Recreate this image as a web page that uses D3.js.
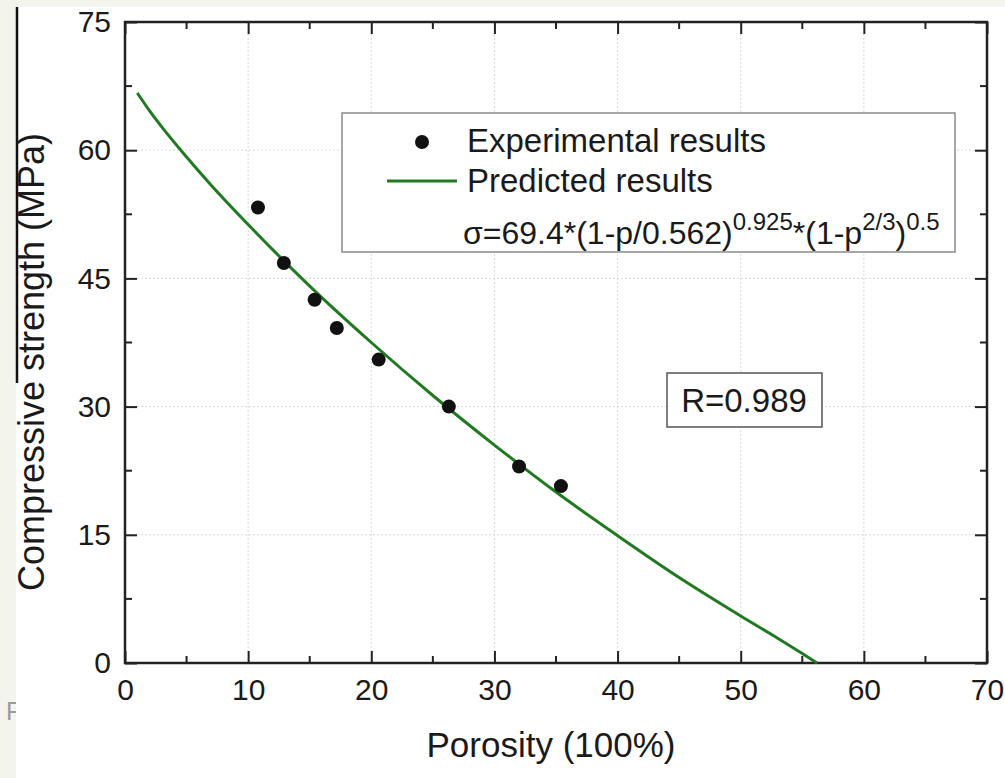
<!DOCTYPE html>
<html>
<head>
<meta charset="utf-8">
<script src="https://cdn.jsdelivr.net/npm/d3@7"></script>
<style>
  body { margin: 0; background: #f3f5ec; }
  svg { display: block; font-family: "Liberation Sans", Arial, sans-serif; }
</style>
</head>
<body>
<svg width="1005" height="778"></svg>
<script>
// measured points
const porosity = [10.8, 12.9, 15.4, 17.2, 20.6, 26.3, 32.0, 35.4];
const strength = [53.3, 46.8, 42.5, 39.2, 35.5, 30.0, 23.0, 20.7];

// predicted curve
const predPorosity = [1, 2, 3, 5, 7, 10, 15, 20, 25, 30, 35, 40, 45, 50, 53, 55, 56.2];
const predStrength = [66.7, 64.6, 62.7, 59.2, 55.9, 51.3, 44.1, 37.5, 31.3, 25.5, 20.0, 14.9, 10.0, 5.5, 2.9, 1.1, 0];

const xTicks = [0, 10, 20, 30, 40, 50, 60, 70];
const yTicks = [0, 15, 30, 45, 60, 75];
const xMinor = [5, 15, 25, 35, 45, 55, 65];
const yMinor = [7.5, 22.5, 37.5, 52.5, 67.5];

const pL = 125, pR = 987, pT = 22, pB = 663;
const ink = "#1a1a1a";

const svg = d3.select("svg");

// slide bits behind the figure
svg.append("text").attr("x", 6).attr("y", 720)
  .attr("font-size", 25).attr("fill", "#9a9a9a").text("F");
svg.append("rect").attr("x", 16).attr("y", 7).attr("width", 989).attr("height", 771).attr("fill", "#fff");
svg.append("line").attr("x1", 17).attr("x2", 17).attr("y1", 7).attr("y2", 383)
  .attr("stroke", "#111").attr("stroke-width", 2.5);

const x = d3.scaleLinear().domain([0, 70]).range([pL, pR]);
const y = d3.scaleLinear().domain([0, 75]).range([pB, pT]);

// grid
const grid = svg.append("g").attr("stroke", "#d9d9d9").attr("stroke-width", 1).attr("stroke-dasharray", "2,2");
grid.selectAll(".gx").data(xTicks.slice(1, -1)).enter().append("line")
  .attr("x1", d => x(d)).attr("x2", d => x(d)).attr("y1", pT).attr("y2", pB);
grid.selectAll(".gy").data(yTicks.slice(1, -1)).enter().append("line")
  .attr("x1", pL).attr("x2", pR).attr("y1", d => y(d)).attr("y2", d => y(d));

// axes with inward ticks
const xAxis = d3.axisBottom(x).tickValues(xTicks).tickSize(-12).tickPadding(16).tickFormat(d3.format("d"));
const yAxis = d3.axisLeft(y).tickValues(yTicks).tickSize(-12).tickPadding(14).tickFormat(d3.format("d"));

const gx = svg.append("g").attr("transform", "translate(0," + pB + ")").call(xAxis);
const gy = svg.append("g").attr("transform", "translate(" + pL + ",0)").call(yAxis);
const gxt = svg.append("g").attr("transform", "translate(0," + pT + ")")
  .call(d3.axisTop(x).tickValues(xTicks).tickSize(-12).tickFormat(""));
const gyr = svg.append("g").attr("transform", "translate(" + pR + ",0)")
  .call(d3.axisRight(y).tickValues(yTicks).tickSize(-12).tickFormat(""));

[gx, gy, gxt, gyr].forEach(g => {
  g.select(".domain").remove();
  g.selectAll(".tick line").attr("stroke", "#222").attr("stroke-width", 2);
  g.selectAll(".tick text").attr("font-size", 30).attr("fill", ink).attr("font-family", "Liberation Sans, Arial, sans-serif");
});

// minor ticks
const minor = svg.append("g").attr("stroke", "#222").attr("stroke-width", 2);
xMinor.forEach(v => {
  minor.append("line").attr("x1", x(v)).attr("x2", x(v)).attr("y1", pB).attr("y2", pB - 7);
  minor.append("line").attr("x1", x(v)).attr("x2", x(v)).attr("y1", pT).attr("y2", pT + 7);
});
yMinor.forEach(v => {
  minor.append("line").attr("x1", pL).attr("x2", pL + 7).attr("y1", y(v)).attr("y2", y(v));
  minor.append("line").attr("x1", pR).attr("x2", pR - 7).attr("y1", y(v)).attr("y2", y(v));
});

// frame
svg.append("rect").attr("x", pL).attr("y", pT).attr("width", pR - pL).attr("height", pB - pT)
  .attr("fill", "none").attr("stroke", "#222").attr("stroke-width", 2.5);

// predicted curve
const line = d3.line().x(d => x(d[0])).y(d => y(d[1])).curve(d3.curveMonotoneX);
svg.append("path").datum(d3.zip(predPorosity, predStrength))
  .attr("d", line).attr("fill", "none").attr("stroke", "#217a21").attr("stroke-width", 3);

// experimental points
svg.append("g").selectAll("circle").data(d3.zip(porosity, strength)).enter().append("circle")
  .attr("cx", d => x(d[0])).attr("cy", d => y(d[1])).attr("r", 7).attr("fill", "#111");

// legend
const lg = svg.append("g");
lg.append("rect").attr("x", 342).attr("y", 113).attr("width", 613).attr("height", 139)
  .attr("fill", "#fff").attr("stroke", "#8a8a8a").attr("stroke-width", 1.5);
lg.append("circle").attr("cx", 422).attr("cy", 142).attr("r", 7).attr("fill", "#111");
lg.append("line").attr("x1", 387).attr("x2", 457).attr("y1", 181).attr("y2", 181)
  .attr("stroke", "#217a21").attr("stroke-width", 3);
lg.append("text").attr("x", 467).attr("y", 152).attr("font-size", 33).attr("fill", ink).text("Experimental results");
lg.append("text").attr("x", 467).attr("y", 192).attr("font-size", 33).attr("fill", ink).text("Predicted results");
const eq = lg.append("text").attr("x", 463).attr("y", 244).attr("font-size", 32).attr("fill", ink);
eq.append("tspan").text("\u03c3=69.4*(1-p/0.562)");
eq.append("tspan").attr("font-size", 24).attr("dy", -14).text("0.925");
eq.append("tspan").attr("dy", 14).text("*(1-p");
eq.append("tspan").attr("font-size", 24).attr("dy", -14).text("2/3");
eq.append("tspan").attr("dy", 14).text(")");
eq.append("tspan").attr("font-size", 24).attr("dy", -14).text("0.5");

// R box
svg.append("rect").attr("x", 667).attr("y", 373).attr("width", 155).attr("height", 54)
  .attr("fill", "#fff").attr("stroke", "#555").attr("stroke-width", 1.5);
svg.append("text").attr("x", 744).attr("y", 412).attr("text-anchor", "middle")
  .attr("font-size", 33).attr("fill", ink).text("R=0.989");

// axis titles
svg.append("text").attr("x", 551).attr("y", 757).attr("text-anchor", "middle")
  .attr("font-size", 35).attr("fill", ink).text("Porosity (100%)");
svg.append("text").attr("transform", "translate(44,362) rotate(-90)").attr("text-anchor", "middle")
  .attr("font-size", 36).attr("fill", ink).text("Compressive strength (MPa)");
</script>
</body>
</html>
